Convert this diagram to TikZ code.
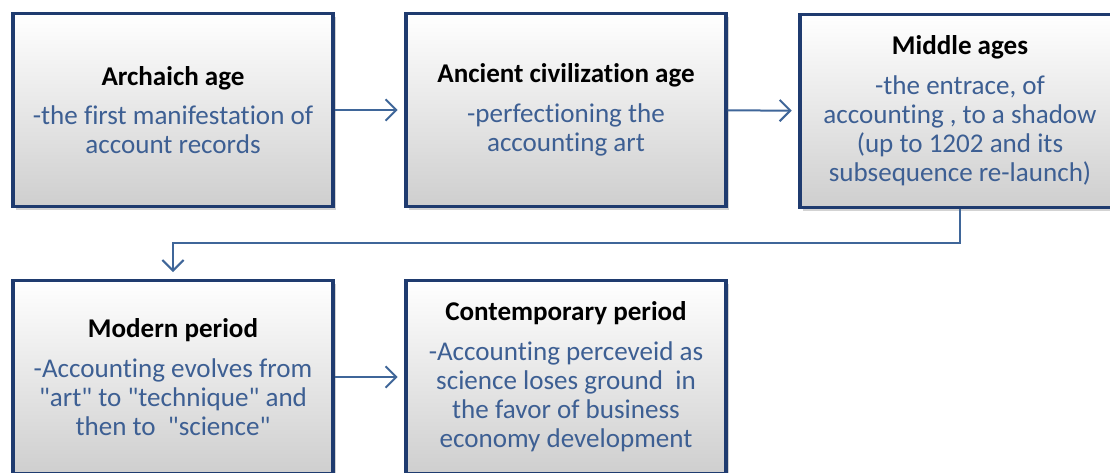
\documentclass[tikz,border=0pt]{standalone}
\usepackage{fontspec}
\setmainfont{Carlito}[Ligatures={TeX,NoCommon}]
\usetikzlibrary{arrows.meta,shadows}
\definecolor{boxline}{HTML}{1F3B6F}
\definecolor{bodytext}{HTML}{3D5F93}
\definecolor{linkline}{HTML}{3F6699}

\begin{document}
\begin{tikzpicture}[x=0.75pt, y=-0.75pt, period/.style={rectangle, draw=boxline, line width=2.4pt, top color=white, bottom color=gray!38, minimum width=240pt, minimum height=145pt, align=center, inner sep=0pt, text=bodytext, font=\fontsize{20.3}{21.75}\selectfont, drop shadow={shadow xshift=2pt, shadow yshift=-2.5pt, opacity=0.35}}, link/.style={-{Straight Barb[length=8pt, width=16pt]}, line width=1.5pt, draw=linkline, shorten >=5pt}]
                \useasboundingbox (0,0) rectangle (1110,472);
                % nodes
                \node[period] (arch) at (173,110) {{\color{black}\fontsize{20.3}{21.75}\selectfont\bfseries Archaich age}\\[8pt]-the first manifestation of\\ account records};
                \node[period] (anc) at (566,110) {{\color{black}\fontsize{20.3}{21.75}\selectfont\bfseries Ancient civilization age}\\[8pt]-perfectioning the\\ accounting art};
                \node[period] (mid) at (960,111) {{\color{black}\fontsize{20.3}{21.75}\selectfont\bfseries Middle ages}\\[8pt]-the entrace, of\\ accounting , to a shadow\\ (up to 1202 and its\\ subsequence re-launch)};
                \node[period] (mod) at (173,377) {{\color{black}\fontsize{20.3}{21.75}\selectfont\bfseries Modern period}\\[8pt]-Accounting evolves from\\ \textquotedbl art\textquotedbl{} to \textquotedbl technique\textquotedbl{} and\\ then to~~\textquotedbl science\textquotedbl};
                \node[period] (cont) at (566,377) {{\color{black}\fontsize{20.3}{21.75}\selectfont\bfseries Contemporary period}\\[8pt]-Accounting perceveid as\\ science loses ground~~in\\ the favor of business\\ economy development};
                % edges
                \draw[link] (arch) -- (anc);
                \draw[link] (anc) -- (mid);
                \draw[link] (mid.south) -- ++(0,34) -| (mod.north);
                \draw[link] (mod) -- (cont);
            \end{tikzpicture}
\end{document}
